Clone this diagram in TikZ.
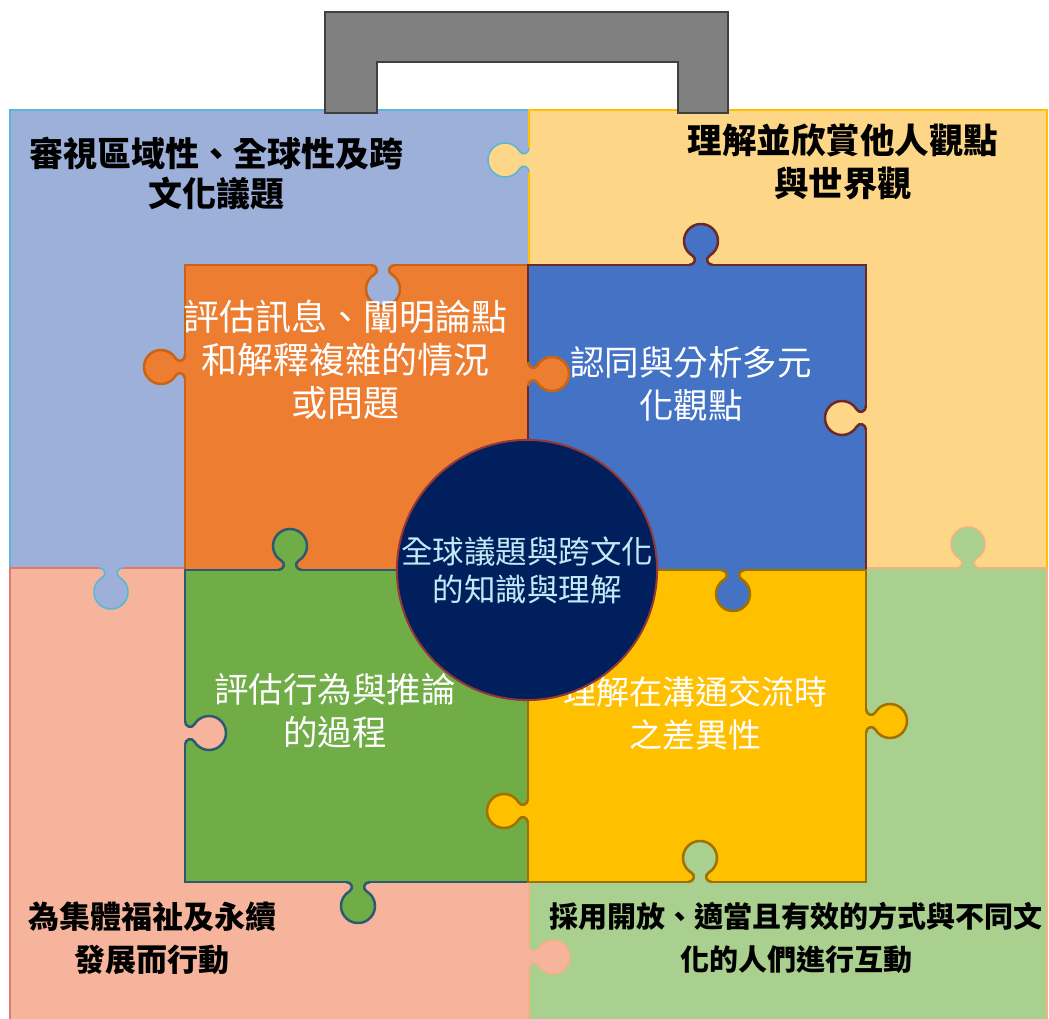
\documentclass[tikz,border=0pt]{standalone}
\usepackage{fontspec}
\newfontfamily\cjk{Noto Sans CJK TC}
\definecolor{bgblue}{RGB}{157,176,218}
\definecolor{bgblueb}{RGB}{88,182,214}
\definecolor{ylight}{RGB}{254,214,136}
\definecolor{ylightb}{RGB}{255,192,0}
\definecolor{glight}{RGB}{169,208,142}
\definecolor{glightb}{RGB}{244,177,131}
\definecolor{salmon}{RGB}{245,180,155}
\definecolor{salmonb}{RGB}{224,120,110}
\definecolor{handle}{RGB}{128,128,128}
\definecolor{handleb}{RGB}{64,64,64}
\definecolor{orng}{RGB}{237,125,49}
\definecolor{orngb}{RGB}{200,100,20}
\definecolor{blu}{RGB}{68,114,196}
\definecolor{blub}{RGB}{110,40,40}
\definecolor{grn}{RGB}{112,173,71}
\definecolor{grnb}{RGB}{45,90,115}
\definecolor{gold}{RGB}{255,192,0}
\definecolor{goldb}{RGB}{160,112,0}
\definecolor{navy}{RGB}{0,31,92}
\definecolor{navyb}{RGB}{150,55,55}
\definecolor{coretext}{RGB}{190,235,247}
\newcommand\knob[6]{%
  \fill[#4,shift={(#1,-#2)},rotate=#3] (-12,0) .. controls (-6,0) and (-4.2,6.8) .. (-8.5,9.3) arc[start angle=240,end angle=-60,radius=17] .. controls (4.2,6.8) and (6,0) .. (12,0) -- (12,-4) -- (-12,-4) -- cycle;
  \draw[#5,line width=#6,shift={(#1,-#2)},rotate=#3] (-12,0) .. controls (-6,0) and (-4.2,6.8) .. (-8.5,9.3) arc[start angle=240,end angle=-60,radius=17] .. controls (4.2,6.8) and (6,0) .. (12,0);
}
\tikzset{
  outer/.style={line width=1.5},
  inner/.style={line width=2.5},
  blk/.style={text=black,align=center,inner sep=0,font=\cjk\bfseries\fontsize{34}{40}\selectfont},
  wht/.style={text=white,align=center,inner sep=0,font=\cjk\fontsize{34.5}{43}\selectfont},
  core/.style={circle,fill=navy,draw=navyb,line width=2,minimum size=254,inner sep=0,text=coretext,align=center,font=\cjk\fontsize{31.5}{38}\selectfont}
}
\begin{document}
\begin{tikzpicture}[x=1pt,y=1pt]
\useasboundingbox (0,0) rectangle (1049,-1019);
\fill[white] (0,0) rectangle (1049,-1019);
% outer pieces
\filldraw[outer,fill=bgblue,draw=bgblueb] (10,-110) rectangle (529,-568);
\filldraw[outer,fill=ylight,draw=ylightb] (529,-110) rectangle (1047,-568);
\filldraw[outer,fill=salmon,draw=salmonb] (10,-568) rectangle (529,-1030);
\filldraw[outer,fill=glight,draw=glightb] (529,-568) rectangle (1047,-1030);
% outer tabs
\knob{529}{160}{90}{ylight}{bgblueb}{1.5}
\knob{111}{568}{180}{bgblue}{bgblueb}{1.5}
\knob{968}{568}{0}{glight}{glightb}{1.5}
\knob{529}{957}{-90}{salmon}{glightb}{1.5}
% handle
\filldraw[line width=2,fill=handle,draw=handleb] (325,-113) -- (325,-12) -- (728,-12) -- (728,-113) -- (678,-113) -- (678,-62) -- (377,-62) -- (377,-113) -- cycle;
% inner pieces
\filldraw[inner,fill=orng,draw=orngb] (185,-265) rectangle (528,-570);
\filldraw[inner,fill=blu,draw=blub] (528,-265) rectangle (866,-570);
\filldraw[inner,fill=grn,draw=grnb] (185,-570) rectangle (528,-882);
\filldraw[inner,fill=gold,draw=goldb] (528,-570) rectangle (866,-882);
% inner tabs
\knob{383}{265}{180}{bgblue}{orngb}{2.5}
\knob{185}{367}{90}{orng}{orngb}{2.5}
\knob{528}{374}{-90}{orng}{orngb}{2.5}
\knob{701}{265}{0}{blu}{blub}{2.5}
\knob{866}{418}{90}{ylight}{blub}{2.5}
\knob{290}{570}{0}{grn}{grnb}{2.5}
\knob{733}{570}{180}{blu}{goldb}{2.5}
\knob{185}{733}{-90}{salmon}{grnb}{2.5}
\knob{528}{811}{90}{gold}{goldb}{2.5}
\knob{866}{721}{-90}{gold}{goldb}{2.5}
\knob{358}{882}{180}{grn}{grnb}{2.5}
\knob{700}{882}{0}{glight}{goldb}{2.5}
% texts
\node[blk] (tl) at (216,-174) {審視區域性、全球性及跨\\文化議題};
\node[blk,font=\cjk\bfseries\fontsize{34.5}{43}\selectfont] (tr) at (843,-162) {理解並欣賞他人觀點\\與世界觀};
\node[blk,font=\cjk\bfseries\fontsize{31}{43}\selectfont] (bl) at (152,-938) {為集體福祉及永續\\發展而行動};
\node[blk,font=\cjk\bfseries\fontsize{29}{43}\selectfont] (br) at (796,-938) {採用開放、適當且有效的方式與不同文\\化的人們進行互動};
\node[wht,font=\cjk\fontsize{36}{43}\selectfont] (or) at (345,-360) {評估訊息、闡明論點\\和解釋複雜的情況\\或問題};
\node[wht] (bu) at (691,-384) {認同與分析多元\\化觀點};
\node[wht] (gr) at (335,-711) {評估行為與推論\\的過程};
\node[wht,font=\cjk\fontsize{33}{43}\selectfont] (go) at (695,-713) {理解在溝通交流時\\之差異性};
% centre
\node[core] (center) at (527,-570) {全球議題與跨文化\\的知識與理解};
\end{tikzpicture}
\end{document}
